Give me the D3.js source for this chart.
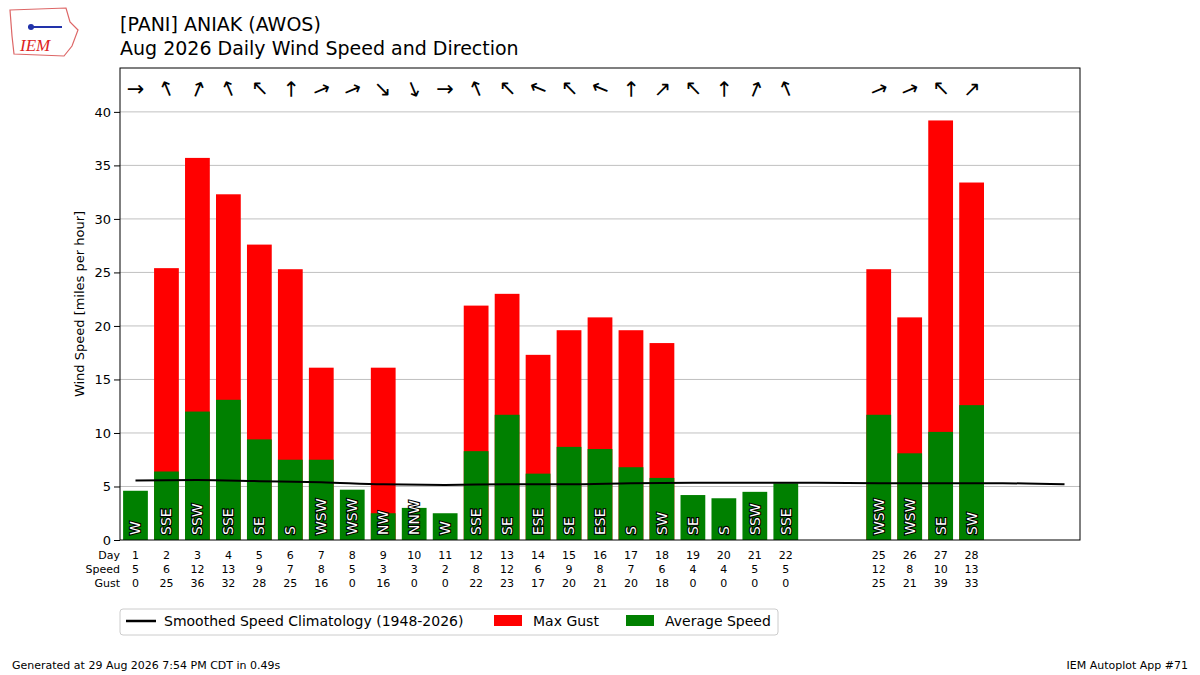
<!DOCTYPE html>
<html><head><meta charset="utf-8">
<script src="https://cdn.jsdelivr.net/npm/d3@7"></script>
<style>body{margin:0;background:#fff;font-family:"DejaVu Sans",sans-serif}</style>
</head><body><div id="content"></div>
<script>
var days = [1,2,3,4,5,6,7,8,9,10,11,12,13,14,15,16,17,18,19,20,21,22,25,26,27,28];
var avgSpeed = [4.6,6.4,12.0,13.1,9.4,7.5,7.5,4.7,2.5,3.0,2.5,8.3,11.7,6.2,8.7,8.5,6.8,5.8,4.2,3.9,4.5,5.3,11.7,8.1,10.1,12.6];
var maxGust = [0,25.4,35.7,32.3,27.6,25.3,16.1,0,16.1,0,0,21.9,23.0,17.3,19.6,20.8,19.6,18.4,0,0,0,0,25.3,20.8,39.2,33.4];
var speedLbl = [5,6,12,13,9,7,8,5,3,3,2,8,12,6,9,8,7,6,4,4,5,5,12,8,10,13];
var gustLbl = [0,25,36,32,28,25,16,0,16,0,0,22,23,17,20,21,20,18,0,0,0,0,25,21,39,33];
var dirs = ["W","SSE","SSW","SSE","SE","S","WSW","WSW","NW","NNW","W","SSE","SE","ESE","SE","ESE","S","SW","SE","S","SSW","SSE","WSW","WSW","SE","SW"];
var climDays = [1,3,5,7,9,11,13,15,17,19,21,23,25,27,29,31];
var climVals = [5.55,5.6,5.5,5.4,5.2,5.15,5.2,5.2,5.3,5.35,5.35,5.35,5.3,5.3,5.3,5.2];
var compass = ["N","NNE","NE","ENE","E","ESE","SE","SSE","S","SSW","SW","WSW","W","WNW","NW","NNW"];

var W=1200,H=675, L=120,R=1080,T=68,B=540;
var svg=d3.select("#content").append("svg").attr("width",W).attr("height",H);
var x=d3.scaleLinear().domain([0.5,31.5]).range([L,R]);
var y=d3.scaleLinear().domain([0,44.1]).range([B,T]);
var bw=(x(1)-x(0))*0.8;

// grid
svg.append("g").selectAll("line").data(d3.range(5,45,5)).join("line")
  .attr("x1",L).attr("x2",R).attr("y1",d=>y(d)).attr("y2",d=>y(d)).attr("stroke","#b0b0b0").attr("stroke-width",0.8);

svg.append("g").selectAll("rect").data(days).join("rect")
  .attr("x",(d)=>x(d)-bw/2).attr("width",bw)
  .attr("y",(d,i)=>y(maxGust[i])).attr("height",(d,i)=>B-y(maxGust[i])).attr("fill","#ff0000");
svg.append("g").selectAll("rect").data(days).join("rect")
  .attr("x",(d)=>x(d)-bw/2).attr("width",bw)
  .attr("y",(d,i)=>y(avgSpeed[i])).attr("height",(d,i)=>B-y(avgSpeed[i])).attr("fill","#008000");

// direction labels
svg.append("g").selectAll("text").data(days).join("text")
  .attr("transform",d=>"translate("+(x(d)+5)+","+(B-5)+") rotate(-90)")
  .attr("font-size",14).attr("fill","#fff").attr("stroke","#000").attr("stroke-width",2.2)
  .attr("paint-order","stroke").text((d,i)=>dirs[i]);

// arrows
svg.append("g").selectAll("text").data(days).join("text")
  .attr("transform",(d,i)=>{var deg=compass.indexOf(dirs[i])*22.5; return "translate("+x(d)+",89) rotate("+(deg+90)+")";})
  .attr("text-anchor","middle").attr("dy","0.35em").attr("font-size",21).text("→");

// climatology
svg.append("path").datum(climDays).attr("fill","none").attr("stroke","#000").attr("stroke-width",2)
  .attr("d",d3.line().x(d=>x(d)).y((d,i)=>y(climVals[i])).curve(d3.curveMonotoneX));

svg.append("rect").attr("x",L).attr("y",T).attr("width",R-L).attr("height",B-T).attr("fill","none").attr("stroke","#000");
var ya=svg.append("g").attr("transform","translate("+L+",0)").call(d3.axisLeft(y).tickValues(d3.range(0,45,5)).tickSizeOuter(0));
ya.select(".domain").remove();
ya.selectAll("text").attr("font-size",13).attr("font-family","DejaVu Sans");
svg.append("text").attr("transform","translate(84,"+((T+B)/2)+") rotate(-90)").attr("text-anchor","middle").attr("font-size",13).text("Wind Speed [miles per hour]");

// table
var rows=[["Day",days],["Speed",speedLbl],["Gust",gustLbl]];
rows.forEach(function(r,k){
  var yy=559+k*14;
  svg.append("text").attr("x",L).attr("y",yy).attr("text-anchor","end").attr("font-size",11).text(r[0]);
  svg.append("g").selectAll("text").data(days).join("text").attr("x",d=>x(d)).attr("y",yy)
    .attr("text-anchor","middle").attr("font-size",11).text((d,i)=>r[1][i]);
});

// titles
svg.append("text").attr("x",120).attr("y",31).attr("font-size",19).text("[PANI] ANIAK (AWOS)");
svg.append("text").attr("x",120).attr("y",55).attr("font-size",19).text("Aug 2026 Daily Wind Speed and Direction");

// legend
var lg=svg.append("g");
lg.append("rect").attr("x",120).attr("y",609).attr("width",658).attr("height",26).attr("rx",3).attr("fill","#fff").attr("stroke","#ccc");
lg.append("line").attr("x1",126).attr("x2",156).attr("y1",621).attr("y2",621).attr("stroke","#000").attr("stroke-width",2.5);
lg.append("text").attr("x",164).attr("y",626).attr("font-size",14).text("Smoothed Speed Climatology (1948-2026)");
lg.append("rect").attr("x",494).attr("y",615).attr("width",28).attr("height",11).attr("fill","#ff0000");
lg.append("text").attr("x",533).attr("y",626).attr("font-size",14).text("Max Gust");
lg.append("rect").attr("x",626).attr("y",615).attr("width",28).attr("height",11).attr("fill","#008000");
lg.append("text").attr("x",665).attr("y",626).attr("font-size",14).text("Average Speed");

svg.append("text").attr("x",12).attr("y",669).attr("font-size",11).text("Generated at 29 Aug 2026 7:54 PM CDT in 0.49s");
svg.append("text").attr("x",1188).attr("y",669).attr("text-anchor","end").attr("font-size",11).text("IEM Autoplot App #71");

// logo
var lo=svg.append("g");
lo.append("path").attr("d","M10,10 L66,8 L70,22 L78,30 L72,46 L64,56 L14,54 L12,36 Z").attr("fill","#fff").attr("stroke","#d66").attr("stroke-width",1.2);
lo.append("line").attr("x1",28).attr("x2",62).attr("y1",27).attr("y2",27).attr("stroke","#2233aa").attr("stroke-width",2);
lo.append("circle").attr("cx",31).attr("cy",27).attr("r",3).attr("fill","#2233aa");
lo.append("text").attr("x",20).attr("y",51).attr("font-size",17).attr("font-style","italic").attr("fill","#d22").attr("font-family","Liberation Serif").text("IEM");
</script></body></html>
